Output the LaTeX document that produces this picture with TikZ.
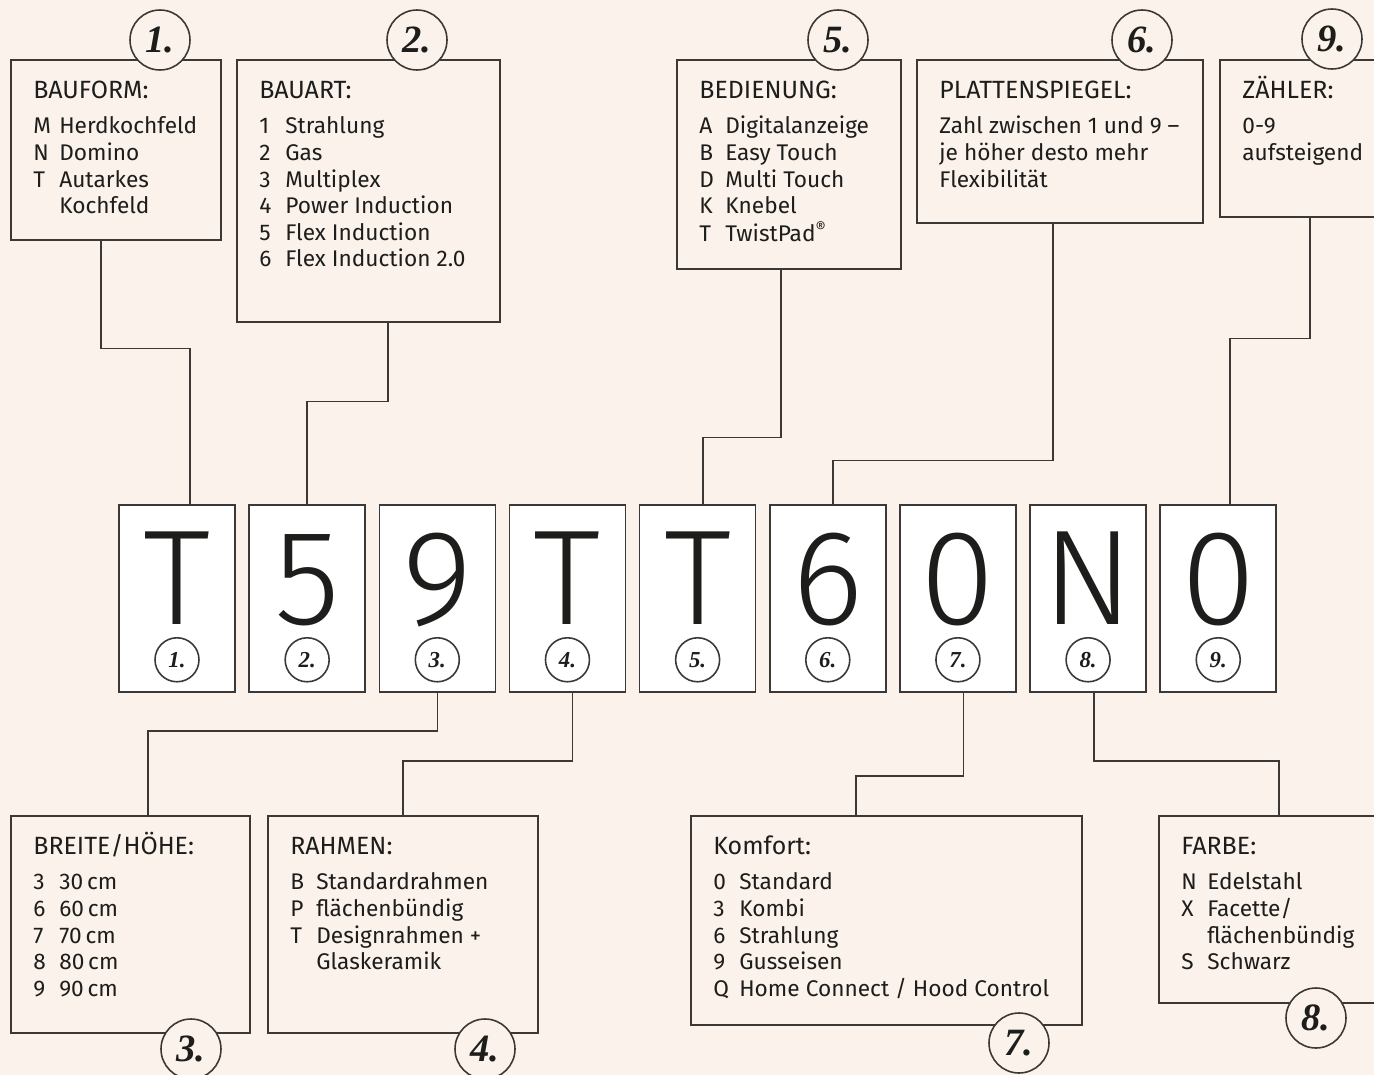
\documentclass[tikz,border=0pt]{standalone}
\usepackage{fontspec}
\setmainfont{Fira Sans}
\newfontfamily\bigfont{Fira Sans Light}
\newfontfamily\numfont{Liberation Serif}
\usetikzlibrary{positioning}
\definecolor{paper}{RGB}{251,242,236}
\definecolor{ink}{RGB}{29,29,27}
\definecolor{rule}{RGB}{60,56,54}
\tikzstyle{infobox}=[rectangle, draw=rule, line width=0.9pt, fill=paper,
  anchor=north west, inner sep=0pt]
\tikzstyle{letterbox}=[rectangle, draw=rule, line width=0.9pt, fill=white,
  minimum width=2.32cm, minimum height=3.74cm, inner sep=0pt]
\tikzstyle{bigletter}=[anchor=base, inner sep=0pt, text=ink,
  font=\bigfont\fontsize{77}{80}\selectfont]
\tikzstyle{numcircle}=[circle, draw=rule, line width=0.9pt, fill=paper,
  minimum size=1.2cm, inner sep=0pt, text=ink,
  font=\numfont\bfseries\itshape\fontsize{22}{22}\selectfont]
\tikzstyle{smallcircle}=[numcircle, fill=white, minimum size=0.88cm,
  font=\numfont\bfseries\itshape\fontsize{13}{13}\selectfont]
\tikzstyle{boxtitle}=[anchor=base west, inner sep=0pt, text=ink,
  font=\fontsize{14.2}{16}\selectfont]
\tikzstyle{boxitems}=[anchor=base west, inner sep=0pt, text=ink,
  font=\fontsize{12.9}{15.1}\selectfont]
\tikzstyle{conn}=[draw=rule, line width=0.9pt]
\newcommand{\itm}[2]{\makebox[0.52cm][l]{#1}#2}

\begin{document}
\begin{tikzpicture}[x=0.02cm, y=-0.02cm] % 1 unit = 1 pixel of the layout
  \fill[paper] (0,0) rectangle (1374,1075);
  \useasboundingbox (0,0) rectangle (1374,1075);

  % code letters
  \node[letterbox] (l1) at (177,598.5) {};
  \node[letterbox, right=0.252cm of l1] (l2) {};
  \node[letterbox, right=0.252cm of l2] (l3) {};
  \node[letterbox, right=0.252cm of l3] (l4) {};
  \node[letterbox, right=0.252cm of l4] (l5) {};
  \node[letterbox, right=0.252cm of l5] (l6) {};
  \node[letterbox, right=0.252cm of l6] (l7) {};
  \node[letterbox, right=0.252cm of l7] (l8) {};
  \node[letterbox, right=0.252cm of l8] (l9) {};
  \node[bigletter] (t1) at ([yshift=-2.4cm]l1.north) {T};
  \node[bigletter] (t2) at ([yshift=-2.4cm]l2.north) {5};
  \node[bigletter] (t3) at ([yshift=-2.4cm]l3.north) {9};
  \node[bigletter] (t4) at ([yshift=-2.4cm]l4.north) {T};
  \node[bigletter] (t5) at ([yshift=-2.4cm]l5.north) {T};
  \node[bigletter] (t6) at ([yshift=-2.4cm]l6.north) {6};
  \node[bigletter] (t7) at ([yshift=-2.4cm]l7.north) {0};
  \node[bigletter] (t8) at ([yshift=-2.4cm]l8.north) {N};
  \node[bigletter] (t9) at ([yshift=-2.4cm]l9.north) {0};
  \node[smallcircle] (s1) at ([yshift=0.66cm]l1.south) {1.};
  \node[smallcircle] (s2) at ([yshift=0.66cm]l2.south) {2.};
  \node[smallcircle] (s3) at ([yshift=0.66cm]l3.south) {3.};
  \node[smallcircle] (s4) at ([yshift=0.66cm]l4.south) {4.};
  \node[smallcircle] (s5) at ([yshift=0.66cm]l5.south) {5.};
  \node[smallcircle] (s6) at ([yshift=0.66cm]l6.south) {6.};
  \node[smallcircle] (s7) at ([yshift=0.66cm]l7.south) {7.};
  \node[smallcircle] (s8) at ([yshift=0.66cm]l8.south) {8.};
  \node[smallcircle] (s9) at ([yshift=0.66cm]l9.south) {9.};

  % boxes above
  \node[infobox, minimum width=4.2cm, minimum height=3.6cm] (b1) at (10,59) {};
  \node[infobox, minimum width=5.26cm, minimum height=5.24cm] (b2) at (236,59) {};
  \node[infobox, minimum width=4.48cm, minimum height=4.18cm] (b5) at (676,59) {};
  \node[infobox, minimum width=5.72cm, minimum height=3.26cm] (b6) at (916,59) {};
  \node[infobox, minimum width=4cm, minimum height=3.14cm] (b9) at (1219,59) {};
  % boxes below
  \node[infobox, minimum width=4.78cm, minimum height=4.34cm] (b3) at (10,815) {};
  \node[infobox, minimum width=5.4cm, minimum height=4.34cm] (b4) at (267,815) {};
  \node[infobox, minimum width=7.82cm, minimum height=4.18cm] (b7) at (690,815) {};
  \node[infobox, minimum width=4.8cm, minimum height=3.74cm] (b8) at (1158,815) {};

  \node[boxtitle] (h1) at ([shift={(0.46cm,-0.8cm)}]b1.north west) {BAUFORM:};
  \node[boxitems] (i1) at ([shift={(0.46cm,-1.5cm)}]b1.north west)
    {\begin{tabular}[t]{@{}l@{}}\itm{M}{Herdkochfeld}\\ \itm{N}{Domino}\\
     \itm{T}{Autarkes}\\ \itm{}{Kochfeld}\end{tabular}};
  \node[boxtitle] (h2) at ([shift={(0.46cm,-0.8cm)}]b2.north west) {BAUART:};
  \node[boxitems] (i2) at ([shift={(0.46cm,-1.5cm)}]b2.north west)
    {\begin{tabular}[t]{@{}l@{}}\itm{1}{Strahlung}\\ \itm{2}{Gas}\\
     \itm{3}{Multiplex}\\ \itm{4}{Power Induction}\\ \itm{5}{Flex Induction}\\
     \itm{6}{Flex Induction 2.0}\end{tabular}};
  \node[boxtitle] (h5) at ([shift={(0.46cm,-0.8cm)}]b5.north west) {BEDIENUNG:};
  \node[boxitems] (i5) at ([shift={(0.46cm,-1.5cm)}]b5.north west)
    {\begin{tabular}[t]{@{}l@{}}\itm{A}{Digitalanzeige}\\ \itm{B}{Easy Touch}\\
     \itm{D}{Multi Touch}\\ \itm{K}{Knebel}\\
     \itm{T}{TwistPad\textsuperscript{®}}\end{tabular}};
  \node[boxtitle] (h6) at ([shift={(0.46cm,-0.8cm)}]b6.north west) {PLATTENSPIEGEL:};
  \node[boxitems] (i6) at ([shift={(0.46cm,-1.5cm)}]b6.north west)
    {\begin{tabular}[t]{@{}l@{}}Zahl zwischen 1 und 9 –\\ je höher desto mehr\\
     Flexibilität\end{tabular}};
  \node[boxtitle] (h9) at ([shift={(0.46cm,-0.8cm)}]b9.north west) {ZÄHLER:};
  \node[boxitems] (i9) at ([shift={(0.46cm,-1.5cm)}]b9.north west)
    {\begin{tabular}[t]{@{}l@{}}0-9\\ aufsteigend\end{tabular}};
  \node[boxtitle] (h3) at ([shift={(0.46cm,-0.8cm)}]b3.north west) {BREITE/HÖHE:};
  \node[boxitems] (i3) at ([shift={(0.46cm,-1.5cm)}]b3.north west)
    {\begin{tabular}[t]{@{}l@{}}\itm{3}{30\,cm}\\ \itm{6}{60\,cm}\\
     \itm{7}{70\,cm}\\ \itm{8}{80\,cm}\\ \itm{9}{90\,cm}\end{tabular}};
  \node[boxtitle] (h4) at ([shift={(0.46cm,-0.8cm)}]b4.north west) {RAHMEN:};
  \node[boxitems] (i4) at ([shift={(0.46cm,-1.5cm)}]b4.north west)
    {\begin{tabular}[t]{@{}l@{}}\itm{B}{Standardrahmen}\\ \itm{P}{flächenbündig}\\
     \itm{T}{Designrahmen +}\\ \itm{}{Glaskeramik}\end{tabular}};
  \node[boxtitle] (h7) at ([shift={(0.46cm,-0.8cm)}]b7.north west) {Komfort:};
  \node[boxitems] (i7) at ([shift={(0.46cm,-1.5cm)}]b7.north west)
    {\begin{tabular}[t]{@{}l@{}}\itm{0}{Standard}\\ \itm{3}{Kombi}\\
     \itm{6}{Strahlung}\\ \itm{9}{Gusseisen}\\
     \itm{Q}{Home Connect / Hood Control}\end{tabular}};
  \node[boxtitle] (h8) at ([shift={(0.46cm,-0.8cm)}]b8.north west) {FARBE:};
  \node[boxitems] (i8) at ([shift={(0.46cm,-1.5cm)}]b8.north west)
    {\begin{tabular}[t]{@{}l@{}}\itm{N}{Edelstahl}\\ \itm{X}{Facette/}\\
     \itm{}{flächenbündig}\\ \itm{S}{Schwarz}\end{tabular}};

  % connectors
  \draw[conn] ([xshift=-0.3cm]b1.south) -- ++(0,108) -| ([xshift=0.26cm]l1.north);
  \draw[conn] ([xshift=0.39cm]b2.south) -- ++(0,79) -| (l2.north);
  \draw[conn] ([xshift=-0.16cm]b5.south) -- ++(0,168) -| ([xshift=0.11cm]l5.north);
  \draw[conn] ([xshift=-0.14cm]b6.south) -- ++(0,237) -| ([xshift=0.1cm]l6.north);
  \draw[conn] ([xshift=-0.2cm]b9.south) -- ++(0,121) -| ([xshift=0.24cm]l9.north);
  \draw[conn] (l3.south) -- ++(0,38) -| ([xshift=0.35cm]b3.north);
  \draw[conn] ([xshift=0.1cm]l4.south) -- ++(0,68) -| (b4.north);
  \draw[conn] ([xshift=0.11cm]l7.south) -- ++(0,83) -| ([xshift=-0.61cm]b7.north);
  \draw[conn] ([xshift=0.12cm]l8.south) -- ++(0,68) -| (b8.north);

  % number tags on the boxes
  \node[numcircle] (c1) at (160,40) {1.};
  \node[numcircle] (c2) at (417,40) {2.};
  \node[numcircle] (c5) at (838,40) {5.};
  \node[numcircle] (c6) at (1142,40) {6.};
  \node[numcircle] (c9) at (1332,39) {9.};
  \node[numcircle] (c3) at (191,1049) {3.};
  \node[numcircle] (c4) at (485,1049) {4.};
  \node[numcircle] (c7) at (1019,1043) {7.};
  \node[numcircle] (c8) at (1316,1018) {8.};
\end{tikzpicture}
\end{document}
